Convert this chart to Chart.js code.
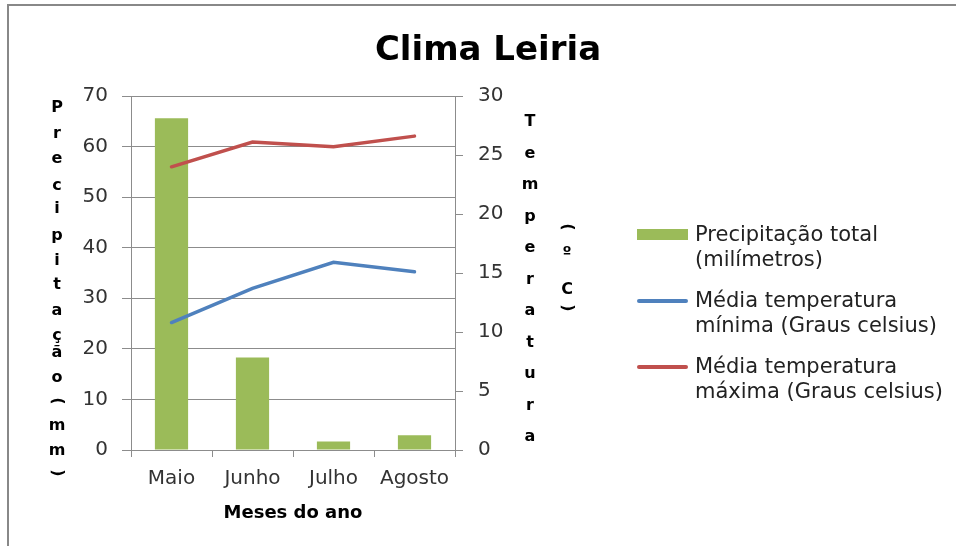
<!DOCTYPE html>
<html>
<head>
<meta charset="utf-8">
<script src="https://cdn.jsdelivr.net/npm/chart.js@4/dist/chart.umd.min.js"></script>
<style>
  html, body { margin: 0; padding: 0; background: #fff; }
  #wrap { position: relative; width: 956px; height: 546px; overflow: hidden; font-family: "DejaVu Sans", sans-serif; }
  #frame { position: absolute; left: 7px; top: 4px; width: 1000px; height: 600px; border-top: 2px solid #888; border-left: 2px solid #888; }
  #chartBox { position: absolute; left: 0; top: 0; width: 956px; height: 546px; }
  #title { position: absolute; left: 0; width: 976px; top: 28px; line-height: 40px; text-align: center; font-weight: bold; font-size: 34px; color: #000; }
  #legend { position: absolute; left: 637px; top: 222px; width: 312px; }
  .legend-item { position: relative; padding-left: 58px; font-size: 21px; line-height: 25px; color: #222; margin-bottom: 16px; }
  .legend-swatch { position: absolute; left: 0; width: 51px; }
</style>
</head>
<body>
<div id="wrap">
  <div id="frame"></div>
  <div id="chartBox"><canvas id="climaChart"></canvas></div>
  <div id="title">Clima Leiria</div>
  <div id="legend"></div>
</div>
<script>
// ---- Data ----
const months = ["Maio", "Junho", "Julho", "Agosto"];
const precipitation = [65.6, 18.3, 1.7, 2.9];
const tempMin = [10.8, 13.7, 15.9, 15.1];
const tempMax = [24.0, 26.1, 25.7, 26.6];

const seriesLabels = [
  "Precipitação total (milímetros)",
  "Média temperatura mínima (Graus celsius)",
  "Média temperatura máxima (Graus celsius)",
];
const seriesColors = ["#9BBB59", "#4F81BD", "#C0504D"];

const leftTitle = "Precipitação (mm)";
const rightTitle = "Temperatura";
const rightUnit = "(ºC)";

const GRID = "#8c8c8c";
const TICK_FONT = { family: "DejaVu Sans", size: 20 };

// Stacked, upright axis titles (Excel style)
const stackedTitles = {
  id: "stackedTitles",
  afterDraw(chart) {
    const { ctx, chartArea } = chart;
    ctx.save();
    ctx.font = "bold 16px 'DejaVu Sans'";
    ctx.fillStyle = "#000";
    ctx.textAlign = "center";
    ctx.textBaseline = "middle";

    const drawChar = (ch, x, y) => {
      if (ch === "(" || ch === ")") {
        ctx.save();
        ctx.translate(x, y);
        ctx.rotate(Math.PI / 2);
        ctx.fillText(ch, 0, 0);
        ctx.restore();
      } else {
        ctx.fillText(ch, x, y);
      }
    };

    // left: Precipitação (mm)
    const leftY = [12, 38, 63, 90, 113, 140, 165, 189, 215, 240, 257, 282, 305, 330, 355, 377];
    const leftChars = leftTitle.replace(" ", "").split("");
    leftChars.forEach((ch, i) => drawChar(ch, chartArea.left - 74, chartArea.top + leftY[i]));

    // right: Temperatura + (ºC) column
    rightTitle.split("").forEach((ch, i) => drawChar(ch, chartArea.right + 75, chartArea.top + 26 + i * 31.5));
    const unitY = [131, 157, 194, 212];
    rightUnit.split("").forEach((ch, i) => drawChar(ch, chartArea.right + 112, chartArea.top + unitY[i]));
    ctx.restore();
  },
};

const chart = new Chart(document.getElementById("climaChart").getContext("2d"), {
  data: {
    labels: months,
    datasets: [
      {
        type: "bar",
        label: seriesLabels[0],
        data: precipitation,
        backgroundColor: seriesColors[0],
        yAxisID: "y",
        categoryPercentage: 1,
        barPercentage: 0.41,
        order: 2,
      },
      {
        type: "line",
        label: seriesLabels[1],
        data: tempMin,
        borderColor: seriesColors[1],
        borderWidth: 3.5,
        pointRadius: 0,
        tension: 0,
        borderCapStyle: "round",
        yAxisID: "y1",
        order: 1,
      },
      {
        type: "line",
        label: seriesLabels[2],
        data: tempMax,
        borderColor: seriesColors[2],
        borderWidth: 3.5,
        pointRadius: 0,
        tension: 0,
        borderCapStyle: "round",
        yAxisID: "y1",
        order: 0,
      },
    ],
  },
  options: {
    responsive: true,
    maintainAspectRatio: false,
    animation: false,
    layout: { padding: { left: 71, right: 441, top: 96, bottom: 16 } },
    plugins: {
      legend: { display: false },
      title: { display: false },
      tooltip: { enabled: false },
    },
    scales: {
      x: {
        offset: true,
        grid: { offset: true, drawOnChartArea: false, drawTicks: true, tickLength: 7, color: GRID },
        border: { color: GRID },
        ticks: { font: TICK_FONT, color: "#333", padding: 10 },
        title: { display: true, text: "Meses do ano", font: { family: "DejaVu Sans", size: 18, weight: "bold" }, color: "#000", padding: { top: 0, bottom: 6 } },
        afterFit: s => { s.height = 80; },
      },
      y: {
        position: "left",
        min: 0,
        max: 70,
        ticks: { stepSize: 10, font: TICK_FONT, color: "#333", padding: 14 },
        grid: { color: GRID, tickLength: 9 },
        border: { color: GRID },
        afterFit: s => { s.width = 60; },
      },
      y1: {
        position: "right",
        min: 0,
        max: 30,
        ticks: { stepSize: 5, font: TICK_FONT, color: "#333", padding: 15 },
        grid: { drawOnChartArea: false, color: GRID, tickLength: 8 },
        border: { color: GRID },
        afterFit: s => { s.width = 60; },
      },
    },
  },
  plugins: [stackedTitles],
});

// ---- Custom legend ----
const legendEl = document.getElementById("legend");
legendEl.innerHTML = chart.data.datasets.map((d, i) => {
  const sw = d.type === "bar"
    ? `<span class="legend-swatch" style="top:7px;height:11px;background:${seriesColors[i]}"></span>`
    : `<span class="legend-swatch" style="top:11px;height:3.5px;border-radius:2px;background:${seriesColors[i]}"></span>`;
  return `<div class="legend-item">${sw}${d.label}</div>`;
}).join("");
</script>
</body>
</html>
